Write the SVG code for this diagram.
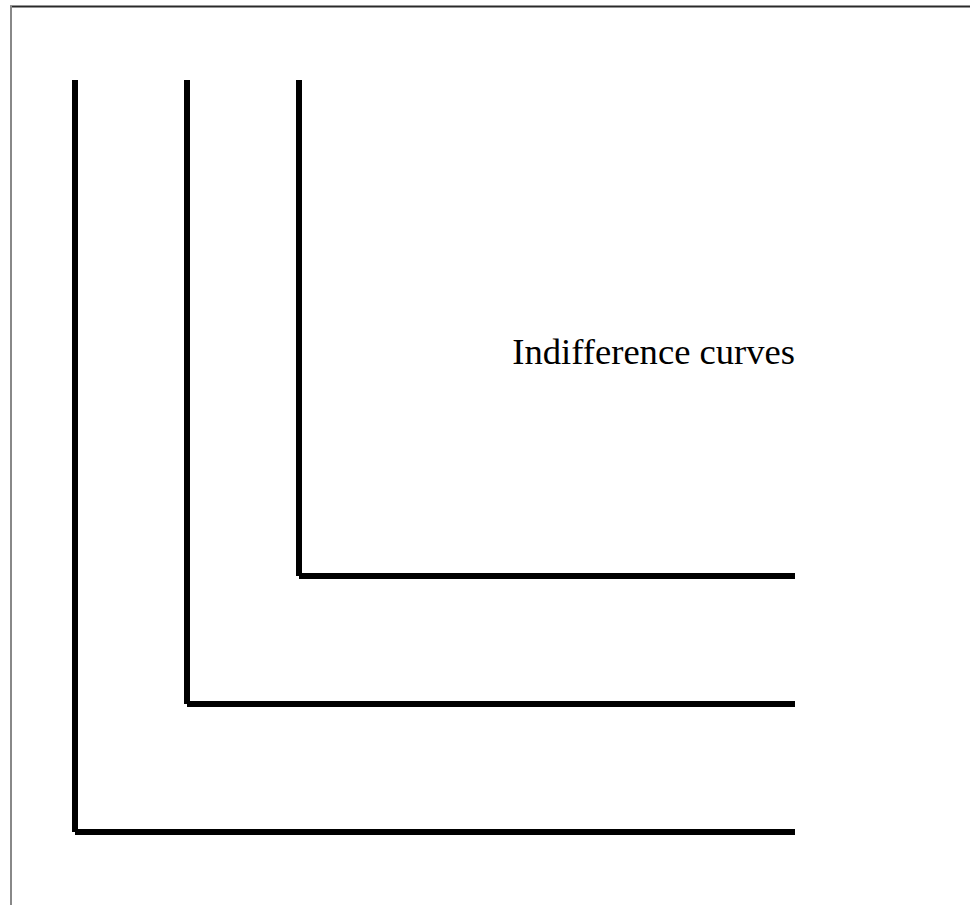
<svg xmlns="http://www.w3.org/2000/svg" width="970" height="905" viewBox="0 0 970 905">
<style>
.c{stroke:#000;stroke-width:6;fill:none;stroke-linecap:butt}
.lbl{font-family:'Liberation Serif','Times New Roman',serif;font-size:36.6px;fill:#000}
</style>
<rect x="0" y="0" width="970" height="905" fill="#fff"/>
<line x1="10" y1="6.5" x2="970" y2="6.5" stroke="#2a2a2a" stroke-width="2"/>
<line x1="11" y1="6" x2="11" y2="905" stroke="#888" stroke-width="2"/>
<g id="connectors">
<g id="curve1">
<line class="c" x1="75" y1="80" x2="75" y2="832"/>
<line class="c" x1="75" y1="832" x2="795" y2="832"/>
</g>
<g id="curve2">
<line class="c" x1="187" y1="80" x2="187" y2="704"/>
<line class="c" x1="187" y1="704" x2="795" y2="704"/>
</g>
<g id="curve3">
<line class="c" x1="299" y1="80" x2="299" y2="576"/>
<line class="c" x1="299" y1="576" x2="795" y2="576"/>
</g>
</g>
<g id="label">
<text class="lbl" x="795" y="364" text-anchor="end" font-family="Liberation Serif, serif">Indifference curves</text>
</g>
</svg>
